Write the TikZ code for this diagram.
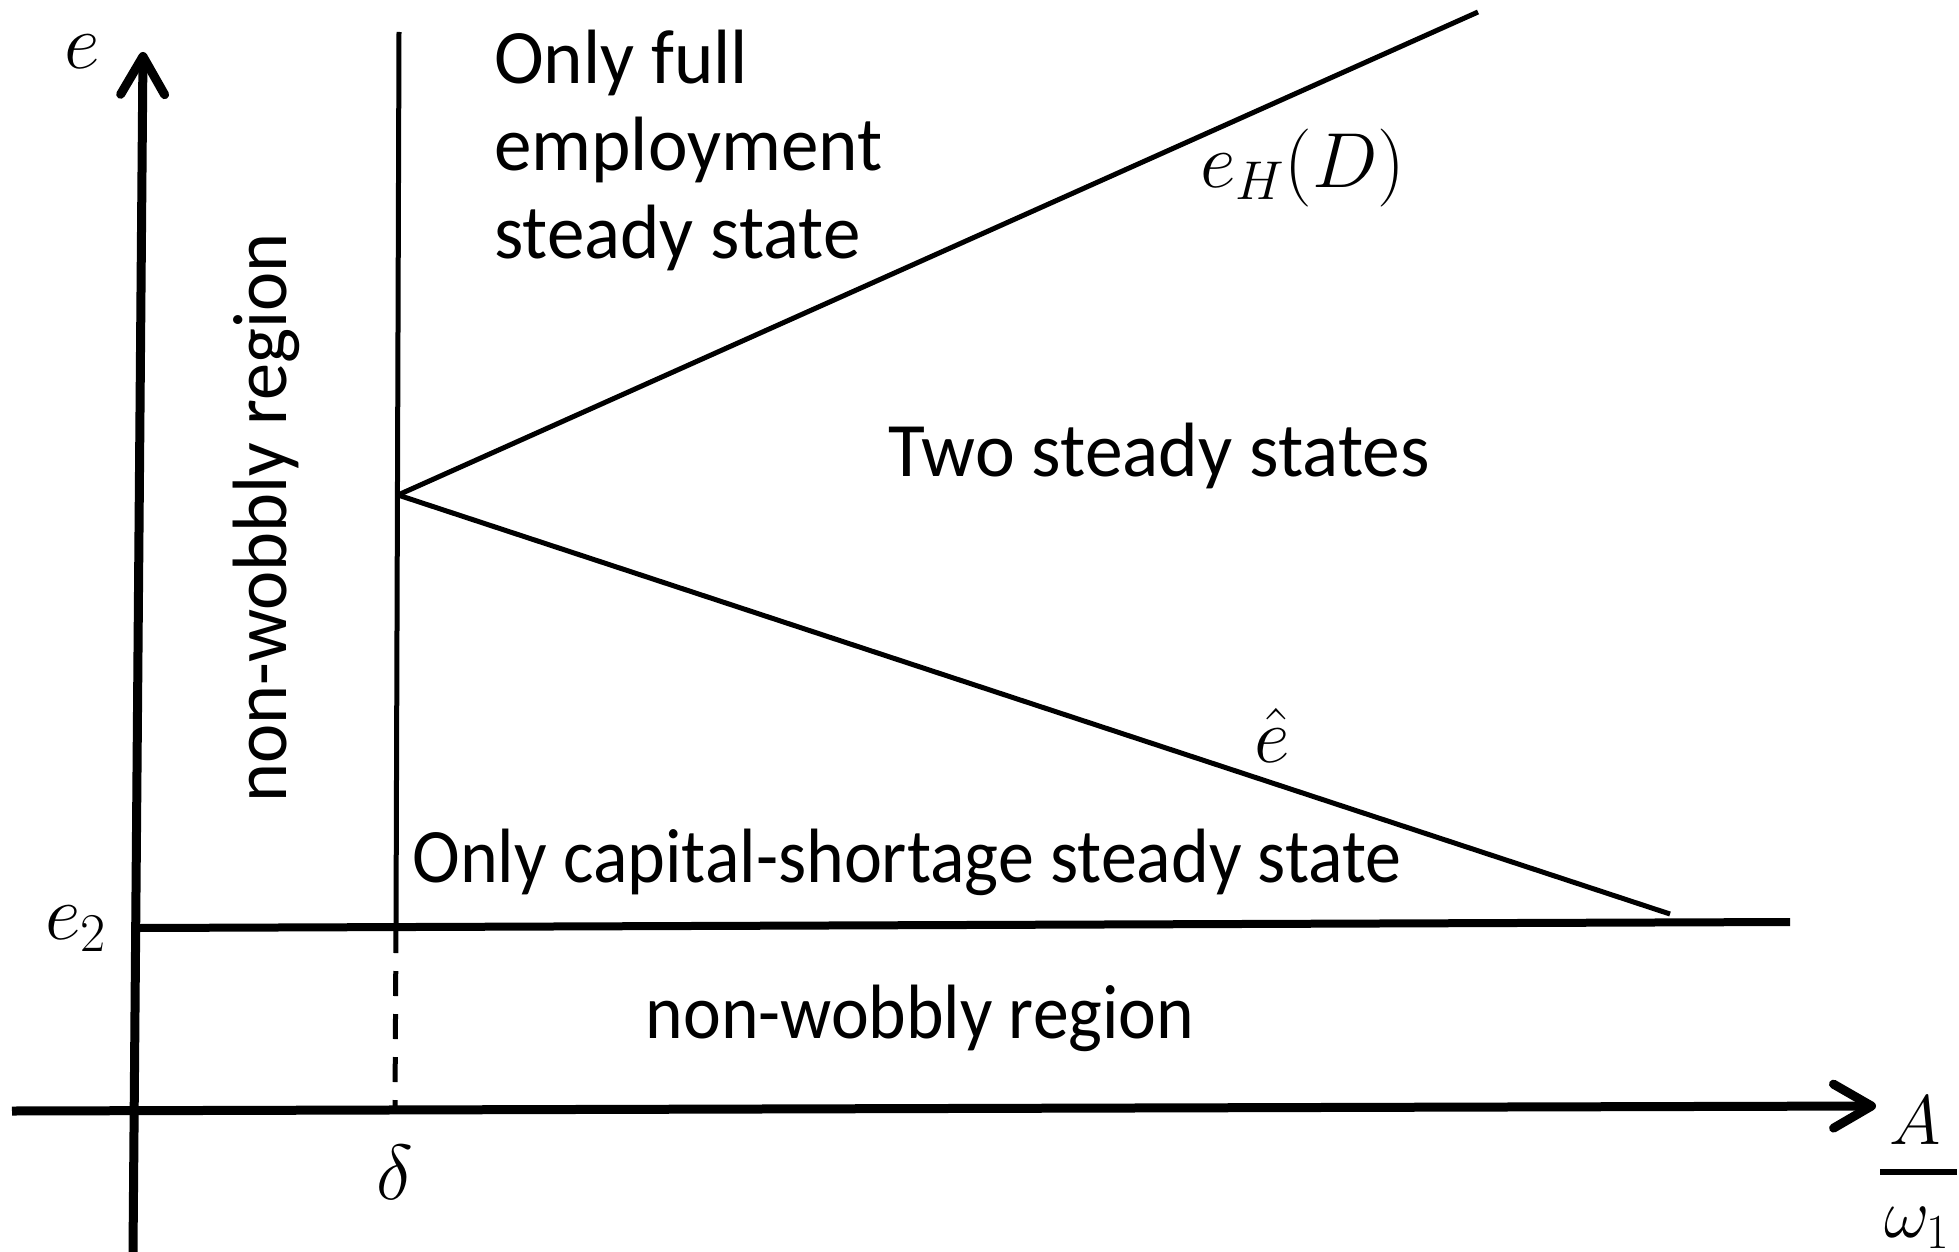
\RequirePackage{fix-cm}
\documentclass[tikz,border=0pt]{standalone}
\usepackage{fontspec}
\setmainfont{Carlito}
\usetikzlibrary{arrows.meta}
\tikzset{
  axisline/.style={line width=9pt, -{Straight Barb[length=38pt,width=44pt,round]}},
  thinline/.style={line width=5pt},
  midline/.style={line width=8pt},
  dashline/.style={line width=5pt, dash pattern=on 25pt off 18pt},
  lbl/.style={inner sep=0pt, font=\fontsize{77}{87.5}\selectfont},
  mlbl/.style={inner sep=0pt, font=\fontsize{78}{90}\selectfont},
  flbl/.style={inner sep=0pt, font=\fontsize{70}{80}\selectfont},
}
\begin{document}
\begin{tikzpicture}[x=1pt,y=-1pt]
\useasboundingbox (0,0) rectangle (1959,1252);
% coordinates
\coordinate (ybot) at (133,1252);
\coordinate (ytop) at (143,52);
\coordinate (xleft) at (12,1111);
\coordinate (xright) at (1876,1106);
\coordinate (dtop) at (399,32);
\coordinate (dmid) at (396,928);
\coordinate (dbot) at (395,1108);
\coordinate (P) at (398,495);
\coordinate (uend) at (1478,12);
\coordinate (lend) at (1670,914);
\coordinate (eleft) at (138,928);
\coordinate (eright) at (1790,922);
\coordinate (barL) at (1880,1172);
\coordinate (barR) at (1957,1172);
% lines
\draw[axisline] (ybot) -- (ytop);
\draw[axisline] (xleft) -- (xright);
\draw[thinline] (dtop) -- (dmid);
\draw[dashline] (dmid) -- (dbot);
\draw[midline] (eleft) -- (eright);
\draw[thinline] (P) -- (uend);
\draw[thinline] (P) -- (lend);
\draw[line width=5.5pt] (barL) -- (barR);
% labels
\node[mlbl] (le) at (82,52) {$e$};
\node[mlbl] (le2) at (76,929) {$e_2$};
\node[mlbl] (ldelta) at (395,1172) {$\delta$};
\node[flbl] (lA) at (1915,1121) {$A$};
\node[flbl] (lom) at (1917,1228) {$\omega_1$};
\node[mlbl] (leH) at (1303,168) {$e_H(D)$};
\node[mlbl] (lehat) at (1272,735) {$\hat{e}$};
\node[lbl, anchor=west, align=left] (lfull) at (494,150) {\scalebox{0.975}[1]{Only full}\\\scalebox{0.975}[1]{employment}\\\scalebox{0.975}[1]{steady state}};
\node[lbl, rotate=90] (lnw1) at (266,518) {\scalebox{0.965}[1]{non-wobbly region}};
\node[lbl] (ltwo) at (1159,456) {\scalebox{0.98}[1]{Two steady states}};
\node[lbl] (lcap) at (907,862) {\scalebox{0.935}[1]{Only capital-shortage steady state}};
\node[lbl] (lnw2) at (920,1018) {\scalebox{0.93}[1]{non-wobbly region}};
\end{tikzpicture}
\end{document}
